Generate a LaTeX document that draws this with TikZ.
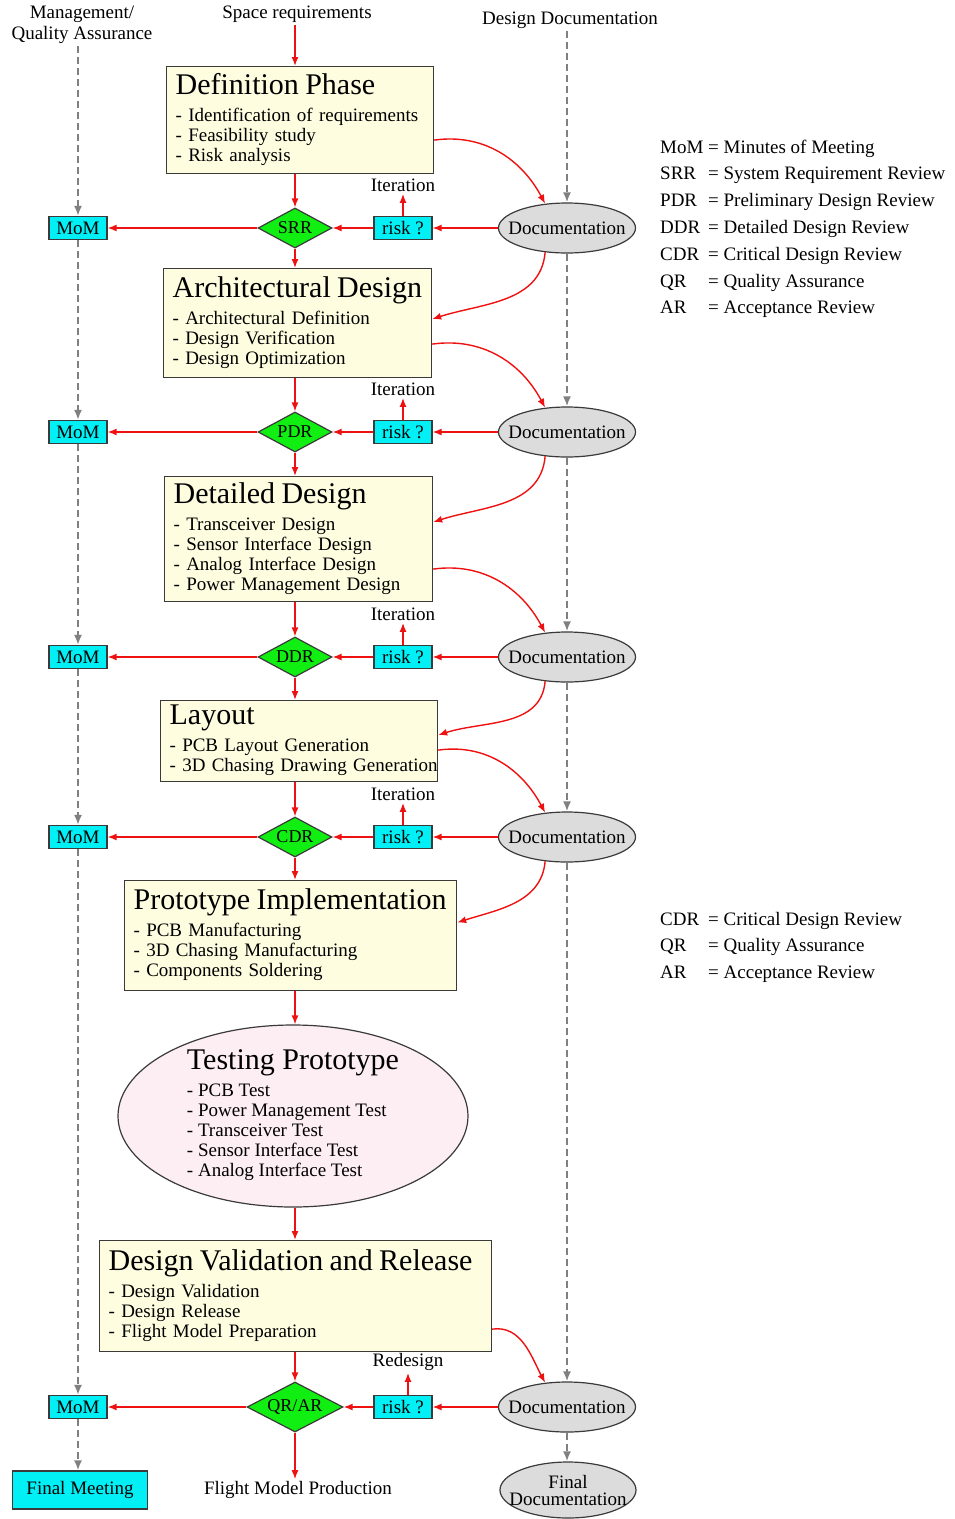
\documentclass[tikz,border=0pt]{standalone}
\usepackage{fontspec}
\setmainfont{Liberation Serif}
\usepackage{tikz}
\usetikzlibrary{arrows.meta,positioning,shapes.geometric,calc}

\definecolor{arrred}{HTML}{EE1111}
\definecolor{dashgray}{HTML}{808080}
\definecolor{edgegray}{HTML}{3A3A3A}
\definecolor{phasefill}{HTML}{FEFDE0}
\definecolor{tagcyan}{HTML}{00F0F6}
\definecolor{revgreen}{HTML}{11EE11}
\definecolor{docgray}{HTML}{DCDCDC}
\definecolor{testpink}{HTML}{FDEEF3}

\newcommand{\phasebody}[2]{\begin{tabular}{@{}l@{}}{\fontsize{30}{32}\selectfont #1}\\[7pt] #2\end{tabular}}

\begin{document}
\begin{tikzpicture}[x=1pt, y=1pt, every node/.style={font=\fontsize{19}{20}\selectfont, inner sep=2pt}, phase/.style={draw=edgegray, line width=1.2pt, fill=phasefill, align=left, inner xsep=9pt, inner ysep=0pt, anchor=north west}, tag/.style={draw=edgegray, line width=1.2pt, fill=tagcyan, minimum width=58pt, minimum height=23pt, inner sep=0pt}, review/.style={diamond, draw=edgegray, line width=1.2pt, fill=revgreen, aspect=1.9, inner sep=0pt, minimum width=74pt, minimum height=40pt, font=\fontsize{18}{18}\selectfont}, doc/.style={ellipse, draw=edgegray, line width=1.2pt, fill=docgray, inner xsep=-11pt, inner ysep=0pt, minimum width=137pt, minimum height=50pt, align=center}, arr/.style={-{Latex[length=9pt,width=7pt]}, draw=arrred, line width=1.4pt}, dasharr/.style={-{Latex[length=10pt,width=8pt]}, draw=dashgray, line width=2.4pt, dash pattern=on 7pt off 4pt}]
\useasboundingbox (0,0) rectangle (955,-1519);

% column heads
\node[align=center, font=\fontsize{19}{21}\selectfont] (mgmt) at (82,-25) {Management/\\Quality Assurance};
\node (space) at (297,-14) {Space requirements};
\node (docs) at (570,-20) {Design Documentation};

% phases
\node[phase, text width=249pt, minimum height=107pt] (defn) at (166,-66) {\phasebody{Definition Phase}{- Identification of requirements\\ - Feasibility study\\ - Risk analysis}};
\node[phase, text width=250pt, minimum height=109pt] (arch) at (163,-268) {\phasebody{Architectural Design}{- Architectural Definition\\ - Design Verification\\ - Design Optimization}};
\node[phase, text width=250pt, minimum height=125pt] (detl) at (164,-476) {\phasebody{Detailed Design}{- Transceiver Design\\ - Sensor Interface Design\\ - Analog Interface Design\\ - Power Management Design}};
\node[phase, text width=259pt, minimum height=81pt] (layout) at (160,-700) {\phasebody{Layout}{- PCB Layout Generation\\ - 3D Chasing Drawing Generation}};
\node[phase, text width=314pt, minimum height=110pt] (proto) at (124,-880) {\phasebody{Prototype Implementation}{- PCB Manufacturing\\ - 3D Chasing Manufacturing\\ - Components Soldering}};
\node[ellipse, draw=edgegray, line width=1.2pt, fill=testpink, minimum width=350pt, minimum height=182pt, inner xsep=0pt, inner ysep=-3pt] (test) at (293,-1116) {\phasebody{Testing Prototype}{- PCB Test\\ - Power Management Test\\ - Transceiver Test\\ - Sensor Interface Test\\ - Analog Interface Test}};
\node[phase, text width=374pt, minimum height=111pt] (valid) at (99,-1240) {\phasebody{Design Validation and Release}{- Design Validation\\ - Design Release\\ - Flight Model Preparation}};

% review rows
\node[tag] (mom1) at (78,-228) {MoM};
\node[review] (srr) at (295,-228) {SRR};
\node[tag] (risk1) at (403,-228) {risk ?};
\node[doc] (doc1) at (567,-228) {Documentation};
\node[above=22pt of risk1] (iter1) {Iteration};

\node[tag] (mom2) at (78,-432) {MoM};
\node[review] (pdr) at (295,-432) {PDR};
\node[tag] (risk2) at (403,-432) {risk ?};
\node[doc] (doc2) at (567,-432) {Documentation};
\node[above=22pt of risk2] (iter2) {Iteration};

\node[tag] (mom3) at (78,-657) {MoM};
\node[review] (ddr) at (295,-657) {DDR};
\node[tag] (risk3) at (403,-657) {risk ?};
\node[doc] (doc3) at (567,-657) {Documentation};
\node[above=22pt of risk3] (iter3) {Iteration};

\node[tag] (mom4) at (78,-837) {MoM};
\node[review] (cdr) at (295,-837) {CDR};
\node[tag] (risk4) at (403,-837) {risk ?};
\node[doc] (doc4) at (567,-837) {Documentation};
\node[above=22pt of risk4] (iter4) {Iteration};

\node[tag] (mom5) at (78,-1407) {MoM};
\node[review, minimum width=96pt, minimum height=50pt] (qrar) at (295,-1407) {QR/AR};
\node[tag] (risk5) at (403,-1407) {risk ?};
\node[doc] (doc5) at (567,-1407) {Documentation};
\node[above=22pt of risk5, xshift=5pt] (redesign) {Redesign};

% ends
\node[tag, minimum width=135pt, minimum height=38pt] (finalmeet) at (80,-1490) {Final Meeting};
\node (flight) at (298,-1490) {Flight Model Production};
\node[doc, minimum width=136pt, minimum height=56pt, font=\fontsize{19}{17}\selectfont] (finaldoc) at (568,-1490) {Final\\Documentation};

% legends
\node[anchor=base west, inner sep=0pt] (legendtop) at (660,-153) {\renewcommand{\arraystretch}{1.34}\begin{tabular}[t]{@{}p{48pt}@{}l@{}}
MoM & = Minutes of Meeting\\
SRR & = System Requirement Review\\
PDR & = Preliminary Design Review\\
DDR & = Detailed Design Review\\
CDR & = Critical Design Review\\
QR & = Quality Assurance\\
AR & = Acceptance Review
\end{tabular}};
\node[anchor=base west, inner sep=0pt] (legendbot) at (660,-925) {\renewcommand{\arraystretch}{1.34}\begin{tabular}[t]{@{}p{48pt}@{}l@{}}
CDR & = Critical Design Review\\
QR & = Quality Assurance\\
AR & = Acceptance Review
\end{tabular}};

% main flow
\draw[arr] (space.south -| srr) -- (defn.north -| srr);
\draw[arr] (defn.south -| srr) -- (srr);
\draw[arr] (srr) -- (arch.north -| srr);
\draw[arr] (arch.south -| pdr) -- (pdr);
\draw[arr] (pdr) -- (detl.north -| pdr);
\draw[arr] (detl.south -| ddr) -- (ddr);
\draw[arr] (ddr) -- (layout.north -| ddr);
\draw[arr] (layout.south -| cdr) -- (cdr);
\draw[arr] (cdr) -- (proto.north -| cdr);
\draw[arr] (proto.south -| cdr) -- (test.north -| cdr);
\draw[arr] (test.south -| qrar) -- (valid.north -| qrar);
\draw[arr] (valid.south -| qrar) -- (qrar);
\draw[arr] (qrar) -- (flight.north -| qrar);

% review rows
\draw[arr] (doc1) -- (risk1);
\draw[arr] (risk1) -- (srr);
\draw[arr] (srr) -- (mom1);
\draw[arr] (risk1) -- (iter1);
\draw[arr] (doc2) -- (risk2);
\draw[arr] (risk2) -- (pdr);
\draw[arr] (pdr) -- (mom2);
\draw[arr] (risk2) -- (iter2);
\draw[arr] (doc3) -- (risk3);
\draw[arr] (risk3) -- (ddr);
\draw[arr] (ddr) -- (mom3);
\draw[arr] (risk3) -- (iter3);
\draw[arr] (doc4) -- (risk4);
\draw[arr] (risk4) -- (cdr);
\draw[arr] (cdr) -- (mom4);
\draw[arr] (risk4) -- (iter4);
\draw[arr] (doc5) -- (risk5);
\draw[arr] (risk5) -- (qrar);
\draw[arr] (qrar) -- (mom5);
\draw[arr] (risk5.north -| redesign) -- (redesign);

% documentation loops
\draw[arr] ($(defn.east)+(0,-20)$) to[out=8,in=118] (doc1.132);
\draw[arr] (doc1.228) to[out=-95,in=18] ($(arch.east)+(0,4)$);
\draw[arr] ($(arch.east)+(0,-21)$) to[out=8,in=118] (doc2.132);
\draw[arr] (doc2.228) to[out=-95,in=18] ($(detl.east)+(0,17)$);
\draw[arr] ($(detl.east)+(0,-30)$) to[out=8,in=118] (doc3.132);
\draw[arr] (doc3.228) to[out=-95,in=18] ($(layout.east)+(0,6)$);
\draw[arr] ($(layout.east)+(0,-9)$) to[out=8,in=118] (doc4.132);
\draw[arr] (doc4.228) to[out=-95,in=18] ($(proto.east)+(0,13)$);
\draw[arr] ($(valid.east)+(0,-33)$) to[out=8,in=118] (doc5.132);

% management and documentation lines
\draw[dasharr] (mgmt.south -| mom1) -- (mom1);
\draw[dasharr] (mom1) -- (mom2);
\draw[dasharr] (mom2) -- (mom3);
\draw[dasharr] (mom3) -- (mom4);
\draw[dasharr] (mom4) -- (mom5);
\draw[dasharr] (mom5) -- (finalmeet.north -| mom5);
\draw[dasharr] (docs.south -| doc1) -- (doc1);
\draw[dasharr] (doc1) -- (doc2);
\draw[dasharr] (doc2) -- (doc3);
\draw[dasharr] (doc3) -- (doc4);
\draw[dasharr] (doc4) -- (doc5);
\draw[dasharr] (doc5) -- (finaldoc.north -| doc5);
\end{tikzpicture}
\end{document}
